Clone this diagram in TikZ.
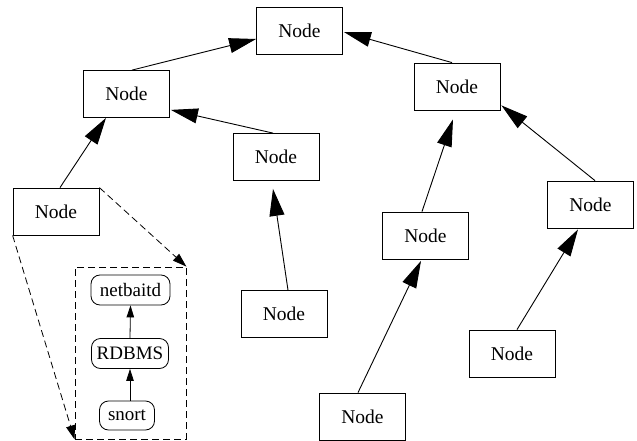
\documentclass[tikz,border=0pt]{standalone}
\usepackage{fontspec}
\setmainfont{Liberation Serif}
\usetikzlibrary{arrows.meta,calc}
\begin{document}
\begin{tikzpicture}[x=1pt,y=-1pt,
  box/.style={draw,line width=0.8pt,minimum width=86pt,minimum height=47pt,inner sep=0pt,font=\fontsize{19.5}{23}\selectfont},
  rbox/.style={draw,line width=0.8pt,rounded corners=9pt,minimum height=30pt,inner sep=0pt,font=\fontsize{19}{23}\selectfont},
  big/.style={line width=0.9pt,-{Triangle[length=27pt,width=15pt]}},
  small/.style={line width=0.8pt,-{Triangle[length=12pt,width=7.5pt]}},
  dsh/.style={line width=0.8pt,dash pattern=on 7pt off 4pt,-{Triangle[length=14pt,width=9pt]}}]
\useasboundingbox (0,0) rectangle (637,441);
\node[box] (top) at (299.5,31) {Node};
\node[box] (lm) at (126.5,94) {Node};
\node[box] (mid) at (276,157) {Node};
\node[box] (left) at (56,211.5) {Node};
\node[box] (bm) at (284,314) {Node};
\node[box] (right) at (457,86.5) {Node};
\node[box] (ml) at (425.5,235.5) {Node};
\node[box] (rn) at (590.5,204.5) {Node};
\node[box] (br) at (512,353.5) {Node};
\node[box] (bot) at (362.5,416.5) {Node};
\node[draw,line width=0.8pt,dash pattern=on 7pt off 4pt,minimum width=111pt,minimum height=172pt,inner sep=0pt] (clu) at (130.5,353) {};
\node[rbox,minimum width=79pt] (nb) at (130.5,290) {netbaitd};
\node[rbox,minimum width=77pt] (rd) at (130,353.5) {RDBMS};
\node[rbox,minimum width=55pt,minimum height=29pt] (sn) at (127,415.5) {snort};
\draw[big] ($(lm.north)+(5.5,0)$) -- ($(top.west)+(0,8)$);
\draw[big] ($(right.north)+(-5,0)$) -- ($(top.east)+(1,1)$);
\draw[big] ($(mid.north)+(-3,0)$) -- ($(lm.south east)+(1,-8)$);
\draw[big] ($(left.north)+(4,0)$) -- ($(lm.south)+(-20.5,0)$);
\draw[big] ($(bm.north)+(4,0)$) -- ($(mid.south)+(-3,8)$);
\draw[big] ($(ml.north)+(-3.5,0)$) -- ($(right.south)+(-4,9)$);
\draw[big] ($(bot.north)+(-4.5,0)$) -- ($(ml.south)+(-4.5,1.5)$);
\draw[big] ($(rn.north)+(4.5,0)$) -- ($(right.south east)+(1,-5)$);
\draw[big] ($(br.north)+(5,0)$) -- ($(rn.south)+(-12.5,1)$);
\draw[small] ($(sn.north)+(3,0)$) -- (rd.south);
\draw[small] (rd.north) -- (nb.south);
\draw[dsh] (left.south west) -- (clu.south west);
\draw[dsh] (left.north east) -- (clu.north east);
\end{tikzpicture}
\end{document}
